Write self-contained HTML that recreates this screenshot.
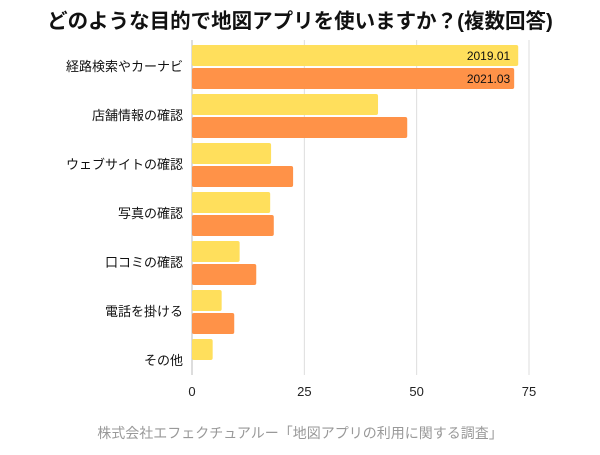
<!DOCTYPE html>
<html><head><meta charset="utf-8"><style>
body{margin:0;background:#fff;font-family:"Liberation Sans","Noto Sans CJK JP",sans-serif;}
</style></head><body>
<svg id="c" width="600" height="450" xmlns="http://www.w3.org/2000/svg">
<text x="300" y="28" text-anchor="middle" font-size="20.5" font-weight="bold" fill="#111" font-family="Liberation Sans,Noto Sans CJK JP,sans-serif">どのような目的で地図アプリを使いますか？(複数回答)</text>
<g id="grid"></g><g id="bars"></g><g id="labels"></g><g id="ticks"></g>
<text x="300" y="438" text-anchor="middle" font-size="14" fill="#999" font-family="Liberation Sans,Noto Sans CJK JP,sans-serif">株式会社エフェクチュアルー「地図アプリの利用に関する調査」</text>
</svg>
<script>
const categories=["経路検索やカーナビ","店舗情報の確認","ウェブサイトの確認","写真の確認","口コミの確認","電話を掛ける","その他"];
const series2019=[72.6,41.4,17.6,17.4,10.6,6.6,4.6];
const series2021=[71.7,47.9,22.5,18.2,14.3,9.4,0];
const ticks=[0,25,50,75];
const NS="http://www.w3.org/2000/svg";
const x0=192,xs=(529-192)/75;
const X=v=>x0+v*xs;
const top0=45,pitch=49,bh=21;
function mk(t,a,p){const e=document.createElementNS(NS,t);for(const k in a)e.setAttribute(k,a[k]);p.appendChild(e);return e;}
const grid=document.getElementById('grid'),bars=document.getElementById('bars'),labels=document.getElementById('labels'),tk=document.getElementById('ticks');
ticks.forEach(t=>{
 const l=mk('line',{x1:X(t),x2:X(t),y1:40,y2:375,stroke:t===0?'#bbb':'#ddd','stroke-width':1},grid);
 
 
 const tx=mk('text',{x:X(t),y:396,'text-anchor':'middle','font-size':13,fill:'#222'},tk);
 tx.textContent=t;
 
 
});
categories.forEach((c,i)=>{
 const y=top0+i*pitch;
 const r1=mk('rect',{x:x0,y:y,width:series2019[i]*xs,height:bh,fill:'#FFDF5C',rx:2},bars);
 
 
 const r2=mk('rect',{x:x0,y:y+bh+2,width:series2021[i]*xs,height:bh,fill:'#FF9248',rx:2},bars);
 
 
 const t=mk('text',{x:183,y:y+bh+5,'text-anchor':'end','font-size':13,fill:'#111'},labels);
 t.textContent=c;
 
 
});
const lg1=mk('text',{x:X(series2019[0])-8,y:top0+15,'text-anchor':'end','font-size':12,fill:'#111'},labels);
lg1.textContent='2019.01';


const lg2=mk('text',{x:X(series2019[0])-8,y:top0+bh+2+15,'text-anchor':'end','font-size':12,fill:'#111'},labels);
lg2.textContent='2021.03';


</script>
</body></html>
